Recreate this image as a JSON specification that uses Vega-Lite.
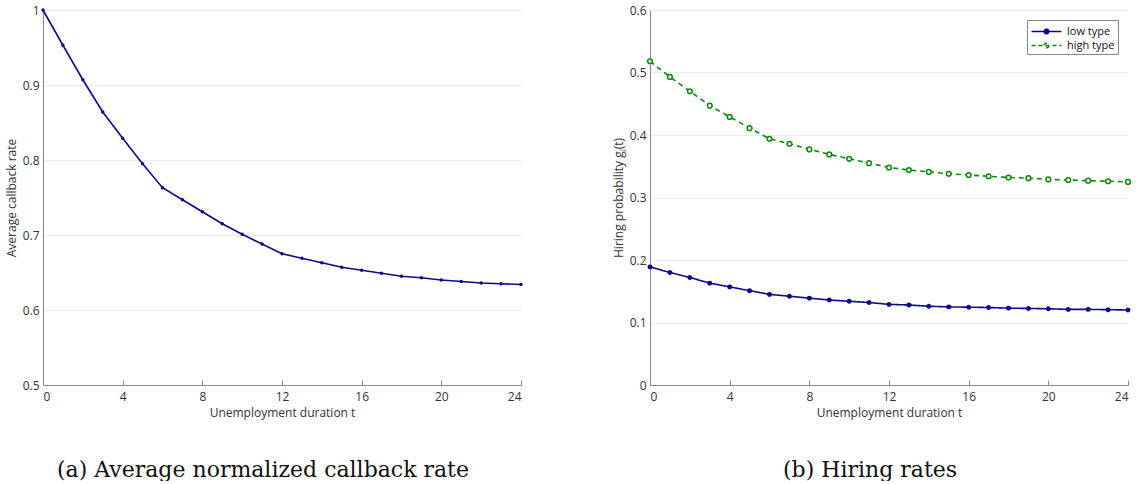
{
  "$schema": "https://vega.github.io/schema/vega-lite/v6.json",
  "background": "white",
  "padding": {"left": 5, "top": 4, "right": 5, "bottom": 0},
  "config": {
    "view": {"stroke": null},
    "font": "Open Sans",
    "axis": {
      "labelFont": "Open Sans", "titleFont": "Open Sans",
      "labelFontSize": 12, "titleFontSize": 12, "titleFontWeight": "normal",
      "labelColor": "#333333", "titleColor": "#333333",
      "domainColor": "#8a8a8a", "tickColor": "#8a8a8a",
      "gridColor": "#ebebeb"
    },
    "title": {"font": "DejaVu Serif", "fontSize": 22, "fontWeight": "normal", "color": "#111111", "orient": "bottom", "offset": 42, "dx": -19}
  },
  "datasets": {
    "callback": [
      {"t": 0, "rate": 1.0}, {"t": 1, "rate": 0.953}, {"t": 2, "rate": 0.907}, {"t": 3, "rate": 0.864},
      {"t": 4, "rate": 0.829}, {"t": 5, "rate": 0.795}, {"t": 6, "rate": 0.763}, {"t": 7, "rate": 0.747},
      {"t": 8, "rate": 0.731}, {"t": 9, "rate": 0.715}, {"t": 10, "rate": 0.701}, {"t": 11, "rate": 0.688},
      {"t": 12, "rate": 0.675}, {"t": 13, "rate": 0.669}, {"t": 14, "rate": 0.663}, {"t": 15, "rate": 0.657},
      {"t": 16, "rate": 0.653}, {"t": 17, "rate": 0.649}, {"t": 18, "rate": 0.645}, {"t": 19, "rate": 0.643},
      {"t": 20, "rate": 0.640}, {"t": 21, "rate": 0.638}, {"t": 22, "rate": 0.636}, {"t": 23, "rate": 0.635},
      {"t": 24, "rate": 0.634}
    ],
    "hiring": [
      {"t": 0, "type": "low type", "p": 0.189}, {"t": 1, "type": "low type", "p": 0.180}, {"t": 2, "type": "low type", "p": 0.172},
      {"t": 3, "type": "low type", "p": 0.163}, {"t": 4, "type": "low type", "p": 0.157}, {"t": 5, "type": "low type", "p": 0.151},
      {"t": 6, "type": "low type", "p": 0.145}, {"t": 7, "type": "low type", "p": 0.142}, {"t": 8, "type": "low type", "p": 0.139},
      {"t": 9, "type": "low type", "p": 0.136}, {"t": 10, "type": "low type", "p": 0.134}, {"t": 11, "type": "low type", "p": 0.132},
      {"t": 12, "type": "low type", "p": 0.129}, {"t": 13, "type": "low type", "p": 0.128}, {"t": 14, "type": "low type", "p": 0.126},
      {"t": 15, "type": "low type", "p": 0.125}, {"t": 16, "type": "low type", "p": 0.1245}, {"t": 17, "type": "low type", "p": 0.124},
      {"t": 18, "type": "low type", "p": 0.123}, {"t": 19, "type": "low type", "p": 0.1225}, {"t": 20, "type": "low type", "p": 0.122},
      {"t": 21, "type": "low type", "p": 0.121}, {"t": 22, "type": "low type", "p": 0.121}, {"t": 23, "type": "low type", "p": 0.1205},
      {"t": 24, "type": "low type", "p": 0.120},
      {"t": 0, "type": "high type", "p": 0.518}, {"t": 1, "type": "high type", "p": 0.493}, {"t": 2, "type": "high type", "p": 0.470},
      {"t": 3, "type": "high type", "p": 0.447}, {"t": 4, "type": "high type", "p": 0.429}, {"t": 5, "type": "high type", "p": 0.411},
      {"t": 6, "type": "high type", "p": 0.394}, {"t": 7, "type": "high type", "p": 0.386}, {"t": 8, "type": "high type", "p": 0.377},
      {"t": 9, "type": "high type", "p": 0.369}, {"t": 10, "type": "high type", "p": 0.362}, {"t": 11, "type": "high type", "p": 0.355},
      {"t": 12, "type": "high type", "p": 0.348}, {"t": 13, "type": "high type", "p": 0.344}, {"t": 14, "type": "high type", "p": 0.341},
      {"t": 15, "type": "high type", "p": 0.338}, {"t": 16, "type": "high type", "p": 0.336}, {"t": 17, "type": "high type", "p": 0.334},
      {"t": 18, "type": "high type", "p": 0.332}, {"t": 19, "type": "high type", "p": 0.331}, {"t": 20, "type": "high type", "p": 0.329},
      {"t": 21, "type": "high type", "p": 0.328}, {"t": 22, "type": "high type", "p": 0.327}, {"t": 23, "type": "high type", "p": 0.326},
      {"t": 24, "type": "high type", "p": 0.325}
    ]
  },
  "spacing": 87,
  "resolve": {"scale": {"color": "independent"}, "legend": {"color": "independent"}},
  "hconcat": [
    {
      "width": 478, "height": 375,
      "title": {"text": "(a) Average normalized callback rate"},
      "data": {"name": "callback"},
      "layer": [
        {"mark": {"type": "line", "color": "#0a0a8c", "strokeWidth": 1.6}},
        {"mark": {"type": "point", "filled": true, "color": "#0a0a8c", "size": 12, "opacity": 1}}
      ],
      "encoding": {
        "x": {"field": "t", "type": "quantitative", "scale": {"domain": [0, 24], "nice": false},
              "axis": {"title": "Unemployment duration t", "values": [0, 4, 8, 12, 16, 20, 24], "grid": false, "tickSize": -5, "labelPadding": 11, "titlePadding": 5}},
        "y": {"field": "rate", "type": "quantitative", "scale": {"domain": [0.5, 1], "nice": false},
              "axis": {"title": "Average callback rate", "values": [0.5, 0.6, 0.7, 0.8, 0.9, 1.0], "format": "~g", "grid": true, "ticks": false, "labelPadding": 4, "titlePadding": 4}}
      }
    },
    {
      "width": 478, "height": 375,
      "title": {"text": "(b) Hiring rates"},
      "data": {"name": "hiring"},
      "layer": [
        {"mark": {"type": "line", "strokeWidth": 1.6},
         "encoding": {"strokeDash": {"field": "type", "type": "nominal", "scale": {"domain": ["low type", "high type"], "range": [[1, 0], [5, 4]]}, "legend": null}}},
        {"mark": {"type": "point", "opacity": 1, "strokeWidth": 1.5},
         "encoding": {
           "size": {"field": "type", "type": "nominal", "scale": {"domain": ["low type", "high type"], "range": [12, 22]}, "legend": null},
           "fill": {"field": "type", "type": "nominal", "scale": {"domain": ["low type", "high type"], "range": ["#0a0a8c", "#ffffff"]}, "legend": null}
         }}
      ],
      "encoding": {
        "x": {"field": "t", "type": "quantitative", "scale": {"domain": [0, 24], "nice": false},
              "axis": {"title": "Unemployment duration t", "values": [0, 4, 8, 12, 16, 20, 24], "grid": false, "tickSize": -5, "labelPadding": 11, "titlePadding": 5}},
        "y": {"field": "p", "type": "quantitative", "scale": {"domain": [0, 0.6], "nice": false},
              "axis": {"title": "Hiring probability gⱼ(t)", "values": [0, 0.1, 0.2, 0.3, 0.4, 0.5, 0.6], "format": "~g", "grid": true, "ticks": false, "labelPadding": 4, "titlePadding": 4}},
        "color": {"field": "type", "type": "nominal", "scale": {"domain": ["low type", "high type"], "range": ["#0a0a8c", "#0a8a0a"]},
                  "legend": {"title": null, "orient": "top-right", "offset": 10, "strokeColor": "#888888", "fillColor": "white", "padding": 3, "labelFont": "Open Sans", "labelFontSize": 11, "labelColor": "#111", "symbolType": "M-2,0H2M0.3,0A0.3,0.3 0 1,1 -0.3,0A0.3,0.3 0 1,1 0.3,0Z", "symbolSize": 225, "symbolStrokeWidth": 1.6, "rowPadding": 0, "labelOffset": 12, "symbolOffset": 8,
                    "encode": {"symbols": {"update": {
                      "strokeDash": {"signal": "datum.value == 'high type' ? [4, 3] : [1, 0]"},
                      "fill": {"signal": "datum.value == 'high type' ? '#ffffff' : '#0a0a8c'"}
                    }}}}}
      }
    }
  ]
}
